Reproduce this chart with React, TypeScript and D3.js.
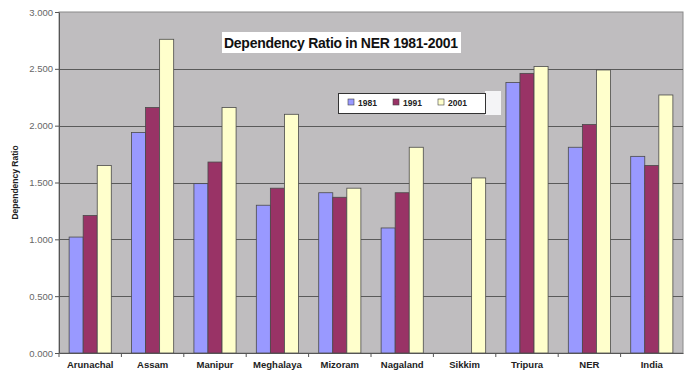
import React, { useEffect, useRef } from 'react';
import * as d3 from 'd3';

const states = ['Arunachal', 'Assam', 'Manipur', 'Meghalaya', 'Mizoram', 'Nagaland', 'Sikkim', 'Tripura', 'NER', 'India'];
const years = ['1981', '1991', '2001'];
const ratio1981 = [1.02, 1.94, 1.49, 1.30, 1.41, 1.10, 0, 2.38, 1.81, 1.73];
const ratio1991 = [1.21, 2.16, 1.68, 1.45, 1.37, 1.41, 0, 2.46, 2.01, 1.65];
const ratio2001 = [1.65, 2.76, 2.16, 2.10, 1.45, 1.81, 1.54, 2.52, 2.49, 2.27];
const yTicks = [0, 0.5, 1, 1.5, 2, 2.5, 3];
const colors = ['#9999FF', '#993366', '#FFFFCC'];

const App: React.FC = () => {
    const ref = useRef<SVGSVGElement>(null);

    useEffect(() => {
        const svg = d3.select(ref.current);
        svg.selectAll('*').remove();

        const left = 59, right = 683, top = 12, bottom = 353;
        const font = '"Liberation Sans", Arial, sans-serif';

        const x0 = d3.scaleBand().domain(states).range([left, right]).paddingInner(0).paddingOuter(0);
        const x1 = d3.scaleBand().domain(years).range([0, x0.bandwidth()]).paddingInner(0).paddingOuter(0.72);
        const y = d3.scaleLinear().domain([0, 3]).range([bottom, top]);

        svg.append('rect').attr('width', 696).attr('height', 378).attr('fill', '#ffffff');

        // plot area
        svg.append('rect')
            .attr('x', left).attr('y', top)
            .attr('width', right - left).attr('height', bottom - top)
            .attr('fill', '#bfbdbf').attr('stroke', '#8a8a8a').attr('stroke-width', 1);

        svg.append('g')
            .selectAll('line')
            .data(yTicks.slice(1, -1))
            .enter().append('line')
            .attr('x1', left).attr('x2', right)
            .attr('y1', d => Math.round(y(d)) + 0.5).attr('y2', d => Math.round(y(d)) + 0.5)
            .attr('stroke', '#5a5a5a').attr('stroke-width', 1);

        const series = [ratio1981, ratio1991, ratio2001];
        const bars = states.flatMap((s, i) => series.map((vals, k) => ({ s, year: years[k], v: vals[i], k })));

        svg.append('g')
            .selectAll('rect')
            .data(bars.filter(d => d.v > 0))
            .enter().append('rect')
            .attr('x', d => (x0(d.s) as number) + (x1(d.year) as number))
            .attr('y', d => y(d.v))
            .attr('width', x1.bandwidth())
            .attr('height', d => bottom - y(d.v))
            .attr('fill', d => colors[d.k])
            .attr('stroke', '#4a4a4a').attr('stroke-width', 0.8);

        // y axis
        const yAxis = svg.append('g')
            .attr('transform', `translate(${left},0)`)
            .call(d3.axisLeft(y).tickValues(yTicks).tickFormat(d3.format('.3f')).tickSize(4).tickSizeOuter(0));
        yAxis.select('.domain').attr('stroke', '#555');
        yAxis.selectAll('line').attr('stroke', '#555');
        yAxis.selectAll('text')
            .attr('font-family', font).attr('font-size', 9.5).attr('fill', '#666').attr('x', -6);

        // x axis
        const xAxis = svg.append('g')
            .attr('transform', `translate(0,${bottom})`)
            .call(d3.axisBottom(x0).tickSize(0).tickSizeOuter(0));
        xAxis.select('.domain').attr('stroke', '#555');
        xAxis.selectAll('text')
            .attr('font-family', font).attr('font-size', 9.5).attr('font-weight', 'bold')
            .attr('fill', '#222').attr('y', 8);
        svg.append('g')
            .selectAll('line')
            .data(states)
            .enter().append('line')
            .attr('x1', d => x0(d) as number).attr('x2', d => x0(d) as number)
            .attr('y1', bottom).attr('y2', bottom + 4)
            .attr('stroke', '#555');

        // y label
        svg.append('text')
            .attr('transform', `translate(18,${(top + bottom) / 2}) rotate(-90)`)
            .attr('text-anchor', 'middle')
            .attr('font-family', font).attr('font-size', 8.5).attr('font-weight', 'bold')
            .attr('fill', '#222')
            .text('Dependency Ratio');

        // title
        svg.append('rect')
            .attr('x', 222).attr('y', 32).attr('width', 239).attr('height', 21)
            .attr('fill', '#ffffff');
        svg.append('text')
            .attr('x', 341).attr('y', 47.5)
            .attr('text-anchor', 'middle')
            .attr('font-family', font).attr('font-size', 14).attr('font-weight', 'bold')
            .attr('fill', '#111')
            .attr('textLength', 234)
            .text('Dependency Ratio in NER 1981-2001');

        // legend
        svg.append('rect')
            .attr('x', 485).attr('y', 91).attr('width', 16).attr('height', 24)
            .attr('fill', '#f4f4f6');
        svg.append('rect')
            .attr('x', 338.5).attr('y', 93.5).attr('width', 147).attr('height', 20)
            .attr('fill', '#ffffff').attr('stroke', '#333').attr('stroke-width', 1);
        const legend = svg.append('g')
            .selectAll('g')
            .data(years)
            .enter().append('g')
            .attr('transform', (d, i) => `translate(${348 + i * 45},0)`);
        legend.append('rect')
            .attr('x', 0).attr('y', 99).attr('width', 6).attr('height', 6)
            .attr('fill', (d, i) => colors[i]).attr('stroke', '#444').attr('stroke-width', 0.6);
        legend.append('text')
            .attr('x', 10).attr('y', 106)
            .attr('font-family', font).attr('font-size', 8.5).attr('font-weight', 'bold')
            .attr('fill', '#222')
            .text(d => d);
    }, []);

    return <svg ref={ref} width={696} height={378} style={{ position: 'absolute', left: 0, top: 0 }}></svg>;
};

export default App;
